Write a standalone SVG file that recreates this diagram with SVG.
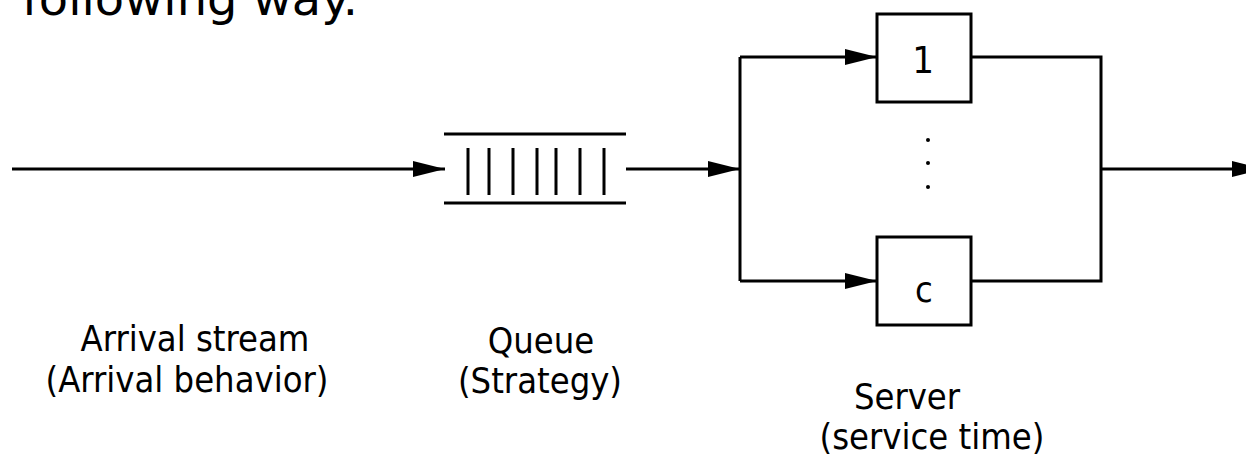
<svg xmlns="http://www.w3.org/2000/svg" width="1246" height="463" viewBox="0 0 1246 463">
<style>
.ln{stroke:#000;stroke-width:3;fill:none}
.bx{stroke:#000;stroke-width:3;fill:#fff}
.t{font-family:"DejaVu Sans Condensed","DejaVu Sans",sans-serif;font-stretch:condensed;font-size:36px;fill:#000;text-anchor:middle}
</style>
<defs>
<marker id="ah" markerWidth="32" markerHeight="16" refX="32" refY="8" orient="auto" markerUnits="userSpaceOnUse">
<path d="M0,0 L32,8 L0,16 Z" fill="#000"/>
</marker>
</defs>
<g id="title"><text x="22" y="15" style="font-family:'DejaVu Sans',sans-serif;font-size:46px" textLength="336" lengthAdjust="spacingAndGlyphs">following way.</text></g>
<g id="connectors">
<line class="ln" x1="12" y1="169" x2="445" y2="169" marker-end="url(#ah)"/>
<line class="ln" x1="626" y1="169" x2="740" y2="169" marker-end="url(#ah)"/>
<line class="ln" x1="740" y1="57" x2="740" y2="281"/>
<line class="ln" x1="740" y1="57" x2="877" y2="57" marker-end="url(#ah)"/>
<line class="ln" x1="740" y1="281" x2="877" y2="281" marker-end="url(#ah)"/>
<polyline class="ln" points="971,57 1101,57 1101,281 971,281"/>
<line class="ln" x1="1101" y1="169" x2="1264" y2="169" marker-end="url(#ah)"/>
</g>
<g id="queue">
<line class="ln" x1="444" y1="134" x2="626" y2="134"/>
<line class="ln" x1="444" y1="203" x2="626" y2="203"/>
<path class="ln" d="M468,148V195M489,148V195M513,148V195M537,148V195M556,148V195M580,148V195M604,148V195"/>
</g>
<g id="server1">
<rect class="bx" x="877" y="14" width="94" height="88"/>
<text class="t" x="923" y="73" style="font-size:38px">1</text>
</g>
<g id="dots">
<circle cx="928" cy="140" r="2"/>
<circle cx="928" cy="163" r="2"/>
<circle cx="928" cy="187" r="2"/>
</g>
<g id="serverc">
<rect class="bx" x="877" y="237" width="94" height="88"/>
<text class="t" x="924" y="302">c</text>
</g>
<g id="label-arrival">
<text class="t" x="195" y="351">Arrival stream</text>
<text class="t" x="187" y="392">(Arrival behavior)</text>
</g>
<g id="label-queue">
<text class="t" x="541" y="353">Queue</text>
<text class="t" x="540" y="393">(Strategy)</text>
</g>
<g id="label-server">
<text class="t" x="907" y="409">Server</text>
<text class="t" x="932" y="449">(service time)</text>
</g>
</svg>
